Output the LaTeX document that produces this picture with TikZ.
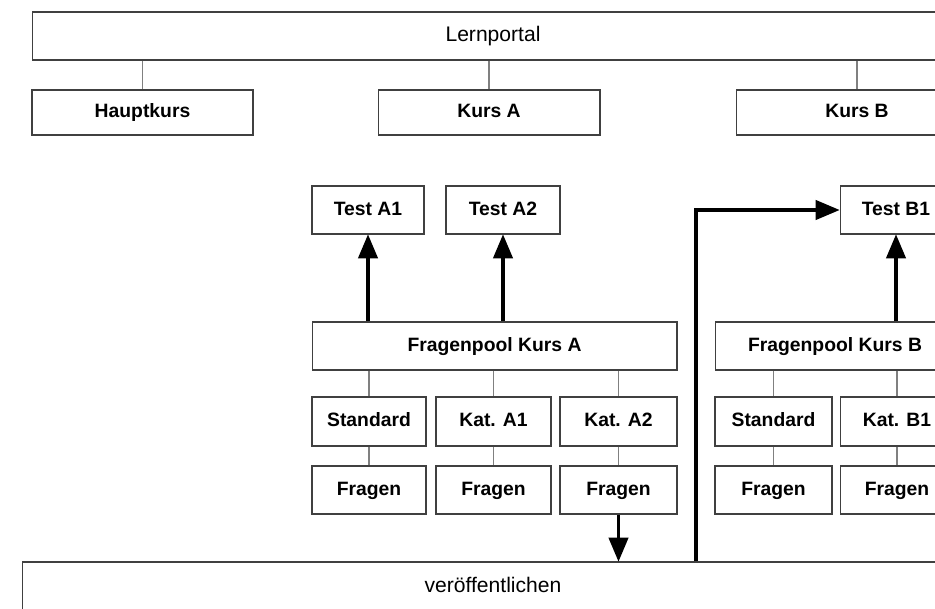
\documentclass[tikz,border=0pt]{standalone}
\usepackage{fontspec}
\setmainfont{Liberation Sans}
\usetikzlibrary{arrows}
\tikzset{box/.style={draw=black!75, line width=0.6pt, fill=white, inner sep=0pt, minimum height=0.96cm, text height=1.6ex, text depth=0.45ex, font=\bfseries\fontsize{11}{13}\selectfont}, plain/.style={font=\fontsize{12}{14}\selectfont}, link/.style={black!50, line width=0.6pt}, push/.style={black, line width=2.2pt, -triangle 45}}

\begin{document}
\begin{tikzpicture}[x=0.02cm, y=-0.02cm]
  \useasboundingbox (0,0) rectangle (935,608);
  \begin{scope}
   \clip (0,0) rectangle (935,608);
   % top level
   \node[box, plain, minimum width=18.44cm] (lern) at (493.0, 36.0) {Lernportal};
   \node[box, minimum width=4.42cm, minimum height=0.90cm] (haupt) at (142.5,112.5) {Hauptkurs};
   \node[box, minimum width=4.44cm, minimum height=0.90cm] (kursa) at (489.0,112.5) {Kurs A};
   \node[box, minimum width=4.84cm, minimum height=0.90cm] (kursb) at (857.0,112.5) {Kurs B};
   \draw[link] (lern.south -| haupt.north) -- (haupt.north);
   \draw[link] (lern.south -| kursa.north) -- (kursa.north);
   \draw[link] (lern.south -| kursb.north) -- (kursb.north);
   % tests
   \node[box, minimum width=2.24cm] (testa1) at (368.0,210.0) {Test A1};
   \node[box, minimum width=2.28cm] (testa2) at (503.0,210.0) {Test A2};
   \node[box, minimum width=2.24cm] (testb1) at (896.0,210.0) {Test B1};
   % pools
   \node[box, minimum width=7.30cm] (poola) at (494.5,346.0) {Fragenpool Kurs A};
   \node[box, minimum width=4.80cm] (poolb) at (835.0,346.0) {Fragenpool Kurs B};
   \draw[push] (poola.north -| testa1.south) -- (testa1.south);
   \draw[push] (poola.north -| testa2.south) -- (testa2.south);
   \draw[push] (poolb.north -| testb1.south) -- (testb1.south);
   % categories
   \node[box, minimum width=2.28cm, minimum height=0.98cm] (stda)  at (369.0,421.5) {Standard};
   \node[box, minimum width=2.30cm, minimum height=0.98cm] (kata1) at (493.5,421.5) {Kat. A1};
   \node[box, minimum width=2.34cm, minimum height=0.98cm] (kata2) at (618.5,421.5) {Kat. A2};
   \node[box, minimum width=2.34cm, minimum height=0.98cm] (stdb)  at (773.5,421.5) {Standard};
   \node[box, minimum width=2.28cm, minimum height=0.98cm] (katb1) at (897.0,421.5) {Kat. B1};
   \draw[link] (poola.south -| stda.north) -- (stda.north);
   \draw[link] (poola.south -| kata1.north) -- (kata1.north);
   \draw[link] (poola.south -| kata2.north) -- (kata2.north);
   \draw[link] (poolb.south -| stdb.north) -- (stdb.north);
   \draw[link] (poolb.south -| katb1.north) -- (katb1.north);
   % questions
   \node[box, minimum width=2.28cm] (fraga0) at (369.0,490.0) {Fragen};
   \node[box, minimum width=2.30cm] (fraga1) at (493.5,490.0) {Fragen};
   \node[box, minimum width=2.34cm] (fraga2) at (618.5,490.0) {Fragen};
   \node[box, minimum width=2.34cm] (fragb0) at (773.5,490.0) {Fragen};
   \node[box, minimum width=2.28cm] (fragb1) at (897.0,490.0) {Fragen};
   \draw[link] (stda) -- (fraga0);
   \draw[link] (kata1) -- (fraga1);
   \draw[link] (kata2) -- (fraga2);
   \draw[link] (stdb) -- (fragb0);
   \draw[link] (katb1) -- (fragb1);
   % publish
   \node[box, plain, minimum width=18.84cm, minimum height=1.00cm] (pub) at (493.0,587.0) {veröffentlichen};
   \draw[push] (fraga2.south) -- (pub.north -| fraga2.south);
   \coordinate (rise) at (696,0);
   \draw[push] (pub.north -| rise) |- (testb1.west);
  \end{scope}
\end{tikzpicture}
\end{document}
